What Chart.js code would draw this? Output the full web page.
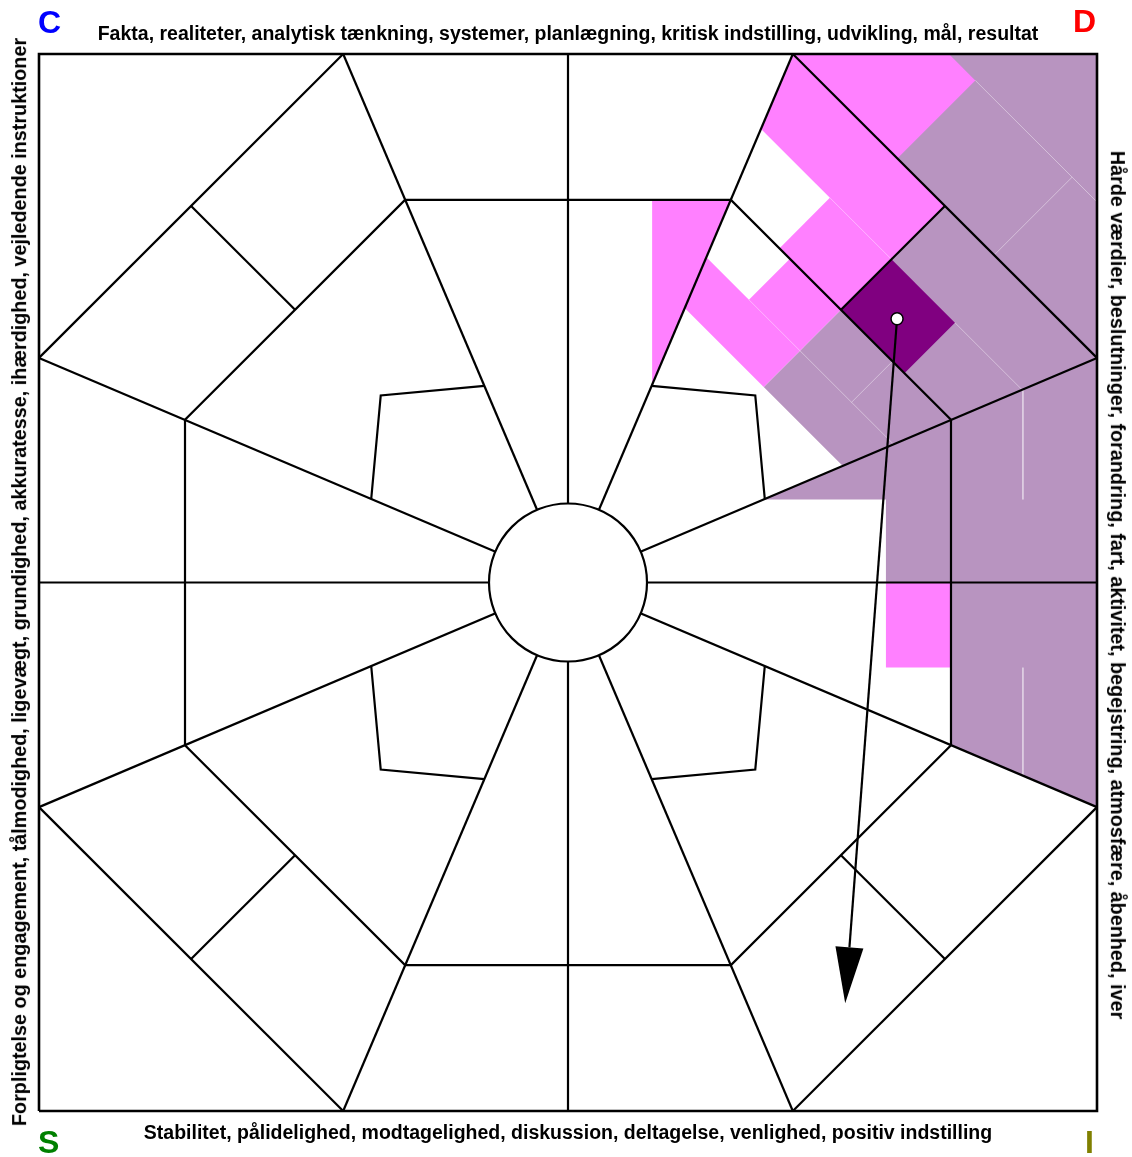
<!DOCTYPE html>
<html>
<head>
<meta charset="utf-8">
<script src="https://cdn.jsdelivr.net/npm/chart.js@4.4.1/dist/chart.umd.min.js"></script>
<style>
  body { margin: 0; background: #fff; }
  #wrap { position: relative; width: 1132px; height: 1157px; overflow: hidden;
          font-family: "Liberation Sans", Arial, sans-serif; font-weight: bold; }
  #wrap canvas { position: absolute; left: 0; top: 0; }
  .side { position: absolute; white-space: nowrap; font-size: 19.5px; line-height: 1; color: #000; }
  .vert { font-size: 19.8px; }
  .letter { position: absolute; font-size: 32px; line-height: 1; }
</style>
</head>
<body>
<div id="wrap">
  <canvas id="myChart" width="1132" height="1157"></canvas>
  <div class="side" style="left:568px;top:34px;transform:translate(-50%,-50%)">Fakta, realiteter, analytisk tænkning, systemer, planlægning, kritisk indstilling, udvikling, mål, resultat</div>
  <div class="side" style="left:568px;top:1133px;transform:translate(-50%,-50%)">Stabilitet, pålidelighed, modtagelighed, diskussion, deltagelse, venlighed, positiv indstilling</div>
  <div class="side vert" style="left:20px;top:582px;transform:translate(-50%,-50%) rotate(-90deg)">Forpligtelse og engagement, tålmodighed, ligevægt, grundighed, akkuratesse, ihærdighed, vejledende instruktioner</div>
  <div class="side vert" style="left:1117px;top:585px;transform:translate(-50%,-50%) rotate(90deg)">Hårde værdier, beslutninger, forandring, fart, aktivitet, begejstring, atmosfære, åbenhed, iver</div>
  <div class="letter" style="left:38px;top:6px;color:#0000ff">C</div>
  <div class="letter" style="left:1073px;top:5px;color:#ff0000">D</div>
  <div class="letter" style="left:38px;top:1126px;color:#008000">S</div>
  <div class="letter" style="left:1085px;top:1126px;color:#808000">I</div>
</div>
<script>
// wheel coordinates: -100..100 both ways, centre of the wheel at 0,0
const frame = [[-100,-100],[100,-100],[100,100],[-100,100],[-100,-100]];
const axisLines = [[[0,-100],[0,100]], [[-100,0],[100,0]]];
const spokeEnds = [[42.5,100],[100,42.5],[100,-42.5],[42.5,-100],[-42.5,-100],[-100,-42.5],[-100,42.5],[-42.5,100]];
const outerDiagonals = [
  [[42.5,100],[100,42.5]], [[100,-42.5],[42.5,-100]],
  [[-42.5,-100],[-100,-42.5]], [[-100,42.5],[-42.5,100]]
];
const innerOctagon = [[-30.8,72.4],[30.8,72.4],[72.4,30.8],[72.4,-30.8],[30.8,-72.4],[-30.8,-72.4],[-72.4,-30.8],[-72.4,30.8],[-30.8,72.4]];
const crossBars = [
  [[51.6,51.6],[71.25,71.25]], [[51.6,-51.6],[71.25,-71.25]],
  [[-51.6,-51.6],[-71.25,-71.25]], [[-51.6,51.6],[-71.25,71.25]]
];
const innerCorners = [
  [[15.8,37.2],[35.4,35.4],[37.2,15.8]], [[37.2,-15.8],[35.4,-35.4],[15.8,-37.2]],
  [[-15.8,-37.2],[-35.4,-35.4],[-37.2,-15.8]], [[-37.2,15.8],[-35.4,35.4],[-15.8,37.2]]
];

// answer areas
const purpleAreas = [
  [[42.5,100],[100,100],[100,42.5]],
  [[71.25,71.25],[100,42.5],[72.4,30.8],[51.6,51.6]],
  [[37,37],[51.9,22.1],[72.4,30.8],[51.6,51.6]],
  [[72.4,30.8],[100,42.5],[100,-42.5],[72.4,-30.8]],
  [[36.9,15.7],[72.4,30.8],[72.4,0],[60.1,0],[60.1,15.7]]
];
const pinkAreas = [
  [[42.5,100],[72,100],[77,95],[62.25,80.25]],
  [[30.8,72.4],[42.5,100],[71.25,71.25],[51.6,51.6]],
  [[22.1,51.9],[37,37],[51.6,51.6],[30.8,72.4]],
  [[15.9,72.4],[30.8,72.4],[15.9,37.4]],
  [[60.1,0],[72.4,0],[72.4,-16.1],[60.1,-16.1]]
];
const emptyAreas = [
  [[36.5,85.8],[49.5,72.8],[40,63.25],[30.8,72.4]],
  [[26.2,61.5],[34.2,53.5],[41.95,61.25],[30.8,72.4]]
];
const focusArea = [[51.6,51.6],[61.15,61.15],[73.15,49.15],[63.6,39.6]];
const seams = [
  [[77,95],[100,72]], [[80.6,62],[95.3,76.7]], [[73.15,49.15],[85.8,36.5]],
  [[43.85,43.85],[61.5,26.2]], [[53.6,34.1],[61.35,41.85]], [[34.2,53.5],[43.85,43.85]],
  [[49.5,72.8],[61.15,61.15]], [[86,36.6],[86,15.7]], [[86,-16.1],[86,-36.6]]
];

const resultPoint = [62.2, 49.9];
const arrowTip = [52.4, -79.6];

function pts(arr) {
  return arr.map(p => ({ x: p[0], y: p[1] }));
}

function area(poly, color, order) {
  return {
    data: pts(poly), fill: 'shape', backgroundColor: color,
    borderColor: 'rgba(0,0,0,0)', borderWidth: 0, pointRadius: 0,
    order: order, clip: false
  };
}

function stroke(poly, color, width, order) {
  return {
    data: pts(poly), fill: false, borderColor: color, borderWidth: width,
    pointRadius: 0, order: order, clip: false
  };
}

const datasets = [];
purpleAreas.forEach(p => datasets.push(area(p, '#b894c0', 100)));
pinkAreas.forEach(p => datasets.push(area(p, '#ff80ff', 90)));
emptyAreas.forEach(p => datasets.push(area(p, '#ffffff', 80)));
datasets.push(area(focusArea, '#800080', 70));
seams.forEach(p => datasets.push(stroke(p, 'rgba(255,255,255,0.4)', 1, 65)));

datasets.push(stroke(frame, '#000', 2.6, 50));
axisLines.forEach(p => datasets.push(stroke(p, '#000', 2.2, 50)));
spokeEnds.forEach(e => datasets.push(stroke([[0,0], e], '#000', 2.2, 50)));
outerDiagonals.forEach(p => datasets.push(stroke(p, '#000', 2.2, 50)));
datasets.push(stroke(innerOctagon, '#000', 2.2, 50));
crossBars.forEach(p => datasets.push(stroke(p, '#000', 2.2, 50)));
innerCorners.forEach(p => datasets.push(stroke(p, '#000', 2.2, 50)));

// centre circle
datasets.push({
  data: [{ x: 0, y: 0 }], showLine: false, pointRadius: 79,
  pointBackgroundColor: '#fff', pointBorderColor: '#000', pointBorderWidth: 2.2,
  order: 40, clip: false
});

// arrow from the result point
const dx = arrowTip[0] - resultPoint[0], dy = arrowTip[1] - resultPoint[1];
const len = Math.sqrt(dx * dx + dy * dy);
const ux = dx / len, uy = dy / len;
const headLen = 10.6, headHalf = 2.65;
const bx = arrowTip[0] - ux * headLen, by = arrowTip[1] - uy * headLen;
const arrowHead = [[bx - uy * headHalf, by + ux * headHalf], arrowTip, [bx + uy * headHalf, by - ux * headHalf]];
datasets.push(stroke([resultPoint, [bx, by]], '#000', 2.2, 30));
datasets.push(area(arrowHead, '#000', 30));

datasets.push({
  data: [{ x: resultPoint[0], y: resultPoint[1] }], showLine: false, pointRadius: 6,
  pointBackgroundColor: '#fff', pointBorderColor: '#000', pointBorderWidth: 1.5,
  order: 20, clip: false
});

const ctx = document.getElementById('myChart');
new Chart(ctx, {
  type: 'line',
  data: { datasets: datasets },
  options: {
    responsive: false,
    animation: false,
    events: [],
    layout: { autoPadding: false, padding: { left: 39, top: 54, right: 35, bottom: 46 } },
    plugins: { legend: { display: false }, tooltip: { enabled: false } },
    elements: { line: { tension: 0 } },
    scales: {
      x: { type: 'linear', min: -100, max: 100, display: false },
      y: { type: 'linear', min: -100, max: 100, display: false }
    }
  }
});
</script>
</body>
</html>
